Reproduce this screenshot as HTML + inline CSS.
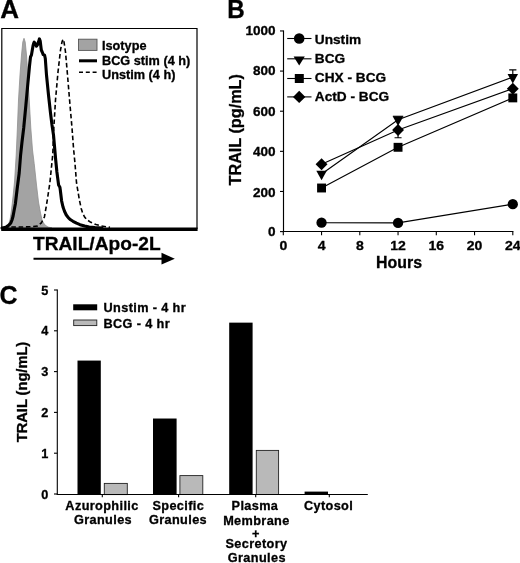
<!DOCTYPE html>
<html>
<head>
<meta charset="utf-8">
<title>TRAIL figure</title>
<style>
  html, body { margin: 0; padding: 0; background: #ffffff; }
  body { width: 520px; height: 563px; overflow: hidden; font-family: "Liberation Sans", sans-serif; }
  svg { display: block; filter: grayscale(1); }
  text { font-family: "Liberation Sans", sans-serif; font-weight: bold; fill: #000; }
</style>
</head>
<body>
<svg width="520" height="563" viewBox="0 0 520 563">
<rect x="0" y="0" width="520" height="563" fill="#ffffff"/>

<g id="panelA">
<text transform="translate(0.3,17.5) scale(1.04,1)" font-size="25" stroke="#000" stroke-width="0.3">A</text>
<path d="M2,228 L6,227 L8.5,224.5 L10.2,219 L11.5,210 L13.1,196 L14.6,181 L16.2,155 L17.4,128 L18.5,100 L20,75 L21.5,55 L22.8,42 L24,38.3 L25.2,42 L26.5,55 L28,78 L29.5,105 L30.8,128 L32.5,150 L34.2,163.5 L36.5,185 L38.5,202 L40.5,213 L42.3,221 L45,225 L48,227 L52,228 Z" fill="#a3a3a3" stroke="#8f8f8f" stroke-width="0.8"/>
<path d="M4,227 L20,227 L30,226.8 L37.5,226 L41.3,223 L44.4,217 L46.5,205 L47.6,198 L49.9,182.7 L52.8,154 L53.8,128 L55.5,100 L58,72 L60.5,50 L62,42 L63,39.2 L64,42 L65.5,52 L67.5,75 L70,105 L72,128 L73.5,148 L75,163.5 L76.5,182.7 L79.4,200 L81.2,208.5 L82.8,213.5 L84.6,217 L87,219.8 L90.8,222.3 L96,224.6 L101.5,226 L110,227.3" fill="none" stroke="#000" stroke-width="1.6" stroke-dasharray="4.6,2.7"/>
<path d="M2,228 L4.5,227.6 L6.9,226.6 L9,225 L10.8,223 L12,220 L13.1,216 L14.2,210 L15.4,203.8 L17.2,188.5 L19.2,173 L20.6,155 L22,142 L23.7,128 L25.9,105 L28.0,82 L29.5,66 L30.5,57 L31.5,54.8 L32.3,50 L33,46 L33.6,43.6 L34.2,42.2 L35.2,43.6 L36.5,46.2 L37.6,44.6 L38.6,41.6 L39.4,38.9 L40.2,41 L40.8,46 L41.3,50 L42.2,52 L43.2,54.6 L44.6,55.2 L45.3,58.5 L46.5,75 L48.5,95 L50.5,113 L52,125 L53.5,135 L54.3,144 L55.7,160 L56.9,172 L58.6,185 L59.9,187.2 L60.3,190 L61.6,200.8 L63,207 L64.6,211.5 L66.3,215 L68.5,217.9 L70.6,219.8 L73,221.3 L76.5,223.2 L80,224.7 L84.6,226 L89.2,227 L95,227.6 L102,228" fill="none" stroke="#000" stroke-width="3.1" stroke-linejoin="round" stroke-linecap="round"/>
<path d="M1.8,229 L1.8,28.5 L197,28.5 L197,229" fill="none" stroke="#000" stroke-width="1.2"/>
<line x1="1.2" y1="229.2" x2="197.6" y2="229.2" stroke="#000" stroke-width="3.5"/>
<rect x="78.5" y="39.2" width="18.5" height="11.2" fill="#a3a3a3" stroke="#555" stroke-width="0.9"/>
<line x1="79" y1="60.8" x2="97" y2="60.8" stroke="#000" stroke-width="3"/>
<line x1="79" y1="72.3" x2="97" y2="72.3" stroke="#000" stroke-width="1.6" stroke-dasharray="4,2.8"/>
<text transform="translate(102,50) scale(1.06,1)" font-size="12.0" stroke="#000" stroke-width="0.3">Isotype</text>
<text transform="translate(102,64.5) scale(1.06,1)" font-size="12.0" stroke="#000" stroke-width="0.3">BCG stim (4 h)</text>
<text transform="translate(102,78.5) scale(1.06,1)" font-size="12.0" stroke="#000" stroke-width="0.3">Unstim (4 h)</text>
<text transform="translate(33,250.3) scale(1.047,1)" font-size="18.3" stroke="#000" stroke-width="0.3">TRAIL/Apo-2L</text>
<line x1="33.5" y1="258.7" x2="164" y2="258.7" stroke="#000" stroke-width="2"/>
<path d="M161.5,252.8 L174.8,258.7 L161.5,264.6 Z" fill="#000"/>
</g>
<g id="panelB">
<text transform="translate(227.3,17.9) scale(0.97,1)" font-size="25" stroke="#000" stroke-width="0.3">B</text>
<line x1="283.5" y1="30.45" x2="283.5" y2="232.0" stroke="#000" stroke-width="1.15"/>
<line x1="283.0" y1="231.5" x2="513.4" y2="231.5" stroke="#000" stroke-width="1.15"/>
<g stroke="#000" stroke-width="1.1">
<line x1="280" y1="231.6" x2="283.5" y2="231.6"/>
<line x1="280" y1="191.47" x2="283.5" y2="191.47"/>
<line x1="280" y1="151.34" x2="283.5" y2="151.34"/>
<line x1="280" y1="111.21" x2="283.5" y2="111.21"/>
<line x1="280" y1="71.08" x2="283.5" y2="71.08"/>
<line x1="280" y1="30.95" x2="283.5" y2="30.95"/>
<line x1="283.3" y1="231.5" x2="283.3" y2="235.3"/>
<line x1="321.55" y1="231.5" x2="321.55" y2="235.3"/>
<line x1="359.8" y1="231.5" x2="359.8" y2="235.3"/>
<line x1="398.05" y1="231.5" x2="398.05" y2="235.3"/>
<line x1="436.3" y1="231.5" x2="436.3" y2="235.3"/>
<line x1="474.55" y1="231.5" x2="474.55" y2="235.3"/>
<line x1="512.8" y1="231.5" x2="512.8" y2="235.3"/>
</g>
<text transform="translate(275.6,236) scale(1.06,1)" font-size="12.8" text-anchor="end" stroke="#000" stroke-width="0.3">0</text>
<text transform="translate(275.6,197.37) scale(1.06,1)" font-size="12.8" text-anchor="end" stroke="#000" stroke-width="0.3">200</text>
<text transform="translate(275.6,155.74) scale(1.06,1)" font-size="12.8" text-anchor="end" stroke="#000" stroke-width="0.3">400</text>
<text transform="translate(275.6,115.61) scale(1.06,1)" font-size="12.8" text-anchor="end" stroke="#000" stroke-width="0.3">600</text>
<text transform="translate(275.6,75.48) scale(1.06,1)" font-size="12.8" text-anchor="end" stroke="#000" stroke-width="0.3">800</text>
<text transform="translate(275.6,35.35) scale(1.06,1)" font-size="12.8" text-anchor="end" stroke="#000" stroke-width="0.3">1000</text>
<text transform="translate(283.3,250.1) scale(1.08,1)" font-size="13.0" text-anchor="middle" stroke="#000" stroke-width="0.3">0</text>
<text transform="translate(321.55,250.1) scale(1.08,1)" font-size="13.0" text-anchor="middle" stroke="#000" stroke-width="0.3">4</text>
<text transform="translate(359.8,250.1) scale(1.08,1)" font-size="13.0" text-anchor="middle" stroke="#000" stroke-width="0.3">8</text>
<text transform="translate(398.05,250.1) scale(1.08,1)" font-size="13.0" text-anchor="middle" stroke="#000" stroke-width="0.3">12</text>
<text transform="translate(436.3,250.1) scale(1.08,1)" font-size="13.0" text-anchor="middle" stroke="#000" stroke-width="0.3">16</text>
<text transform="translate(474.55,250.1) scale(1.08,1)" font-size="13.0" text-anchor="middle" stroke="#000" stroke-width="0.3">20</text>
<text transform="translate(512.8,250.1) scale(1.08,1)" font-size="13.0" text-anchor="middle" stroke="#000" stroke-width="0.3">24</text>
<text transform="translate(399,268) scale(1.02,1)" font-size="15.6" text-anchor="middle" stroke="#000" stroke-width="0.3">Hours</text>
<text transform="translate(240.9,129.8) rotate(-90) scale(1.04,1)" font-size="15.6" text-anchor="middle" stroke="#000" stroke-width="0.3">TRAIL (pg/mL)</text>
<g fill="none" stroke="#000" stroke-width="1.15">
<polyline points="321.55,222.7 398.05,222.9 512.8,204.2"/>
<polyline points="321.55,174.0 398.05,119.7 512.8,77.2"/>
<polyline points="321.55,188.0 398.05,147.3 512.8,97.9"/>
<polyline points="321.55,164.3 398.05,130.0 512.8,88.7"/>
<path d="M512.8,75 L512.8,69.9 M509.2,69.9 L516.4,69.9"/>
<path d="M398.05,133 L398.05,137.7 M394.55,137.7 L401.55,137.7"/>
<path d="M392.85,116.3 L403.25,116.3"/>
</g>
<g fill="#000">
<circle cx="321.55" cy="222.7" r="5.15"/>
<circle cx="398.05" cy="222.9" r="5.15"/>
<circle cx="512.8" cy="204.2" r="5.15"/>
<rect x="317.1" y="183.55" width="8.9" height="8.9"/>
<rect x="393.6" y="142.85" width="8.9" height="8.9"/>
<rect x="508.35" y="93.45" width="8.9" height="8.9"/>
<path d="M316.3,170.87 L326.8,170.87 L321.55,180.27 Z"/>
<path d="M392.8,116.57 L403.3,116.57 L398.05,125.97 Z"/>
<path d="M507.55,74.07 L518.05,74.07 L512.8,83.47 Z"/>
<path d="M321.55,158.35 L327.5,164.3 L321.55,170.25 L315.6,164.3 Z"/>
<path d="M398.05,124.05 L404,130 L398.05,135.95 L392.1,130 Z"/>
<path d="M512.8,82.75 L518.75,88.7 L512.8,94.65 L506.85,88.7 Z"/>
</g>
<g stroke="#000" stroke-width="1.1">
<line x1="287.2" y1="38.5" x2="311.5" y2="38.5"/>
<line x1="287.2" y1="58.8" x2="311.5" y2="58.8"/>
<line x1="287.2" y1="78.5" x2="311.5" y2="78.5"/>
<line x1="287.2" y1="96.9" x2="311.5" y2="96.9"/>
</g>
<g fill="#000">
<circle cx="299.2" cy="38.5" r="5.3"/>
<path d="M293.6,56.4 L304.8,56.4 L299.2,65.4 Z"/>
<rect x="294.8" y="74" width="9" height="9"/>
<path d="M299.2,90.7 L305.4,96.9 L299.2,103.1 L293,96.9 Z"/>
</g>
<text transform="translate(314.8,44.3) scale(1.06,1)" font-size="12.9" stroke="#000" stroke-width="0.3">Unstim</text>
<text transform="translate(314.8,62.9) scale(1.06,1)" font-size="12.9" stroke="#000" stroke-width="0.3">BCG</text>
<text transform="translate(314.8,81.6) scale(1.06,1)" font-size="12.9" stroke="#000" stroke-width="0.3">CHX - BCG</text>
<text transform="translate(314.8,101.0) scale(1.06,1)" font-size="12.9" stroke="#000" stroke-width="0.3">ActD - BCG</text>
</g>
<g id="panelC">
<text transform="translate(-0.6,304.2)" font-size="25" stroke="#000" stroke-width="0.3">C</text>
<g fill="#000">
<rect x="77.5" y="360.58" width="23.3" height="133.92"/>
<rect x="153" y="418.52" width="23.6" height="75.98"/>
<rect x="229.2" y="322.64" width="23.4" height="171.86"/>
<rect x="304.6" y="491.6" width="23.4" height="2.9"/>
</g>
<g fill="#b9b9b9" stroke="#222" stroke-width="0.9">
<rect x="104.3" y="483.4" width="23.0" height="11.2"/>
<rect x="179.9" y="475.6" width="22.9" height="18.9"/>
<rect x="256.3" y="450.4" width="22.3" height="44.1"/>
</g>
<line x1="57.3" y1="289.5" x2="57.3" y2="495.0" stroke="#000" stroke-width="1.1"/>
<line x1="56.8" y1="494.5" x2="367.8" y2="494.5" stroke="#000" stroke-width="1.1"/>
<g stroke="#000" stroke-width="1.1">
<line x1="54" y1="494" x2="57.3" y2="494"/>
<line x1="54" y1="453.2" x2="57.3" y2="453.2"/>
<line x1="54" y1="412.4" x2="57.3" y2="412.4"/>
<line x1="54" y1="371.6" x2="57.3" y2="371.6"/>
<line x1="54" y1="330.8" x2="57.3" y2="330.8"/>
<line x1="54" y1="290" x2="57.3" y2="290"/>
<line x1="102.3" y1="494.5" x2="102.3" y2="497.2"/>
<line x1="178.6" y1="494.5" x2="178.6" y2="497.2"/>
<line x1="255.7" y1="494.5" x2="255.7" y2="497.2"/>
<line x1="329.3" y1="494.5" x2="329.3" y2="497.2"/>
</g>
<text transform="translate(48.2,498.5) scale(1.06,1)" font-size="12" text-anchor="end" stroke="#000" stroke-width="0.3">0</text>
<text transform="translate(48.2,457.7) scale(1.06,1)" font-size="12" text-anchor="end" stroke="#000" stroke-width="0.3">1</text>
<text transform="translate(48.2,416.9) scale(1.06,1)" font-size="12" text-anchor="end" stroke="#000" stroke-width="0.3">2</text>
<text transform="translate(48.2,376.1) scale(1.06,1)" font-size="12" text-anchor="end" stroke="#000" stroke-width="0.3">3</text>
<text transform="translate(48.2,335.3) scale(1.06,1)" font-size="12" text-anchor="end" stroke="#000" stroke-width="0.3">4</text>
<text transform="translate(48.2,294.5) scale(1.06,1)" font-size="12" text-anchor="end" stroke="#000" stroke-width="0.3">5</text>
<text transform="translate(26.6,392) rotate(-90) scale(1.03,1)" font-size="14.2" text-anchor="middle" stroke="#000" stroke-width="0.3">TRAIL (ng/mL)</text>
<rect x="73.2" y="304.3" width="24" height="6" fill="#000"/>
<rect x="73.7" y="320" width="23.1" height="5.6" fill="#b9b9b9" stroke="#222" stroke-width="0.9"/>
<text transform="translate(103.5,312.3) scale(1.06,1)" font-size="12" letter-spacing="0.35" stroke="#000" stroke-width="0.3">Unstim - 4 hr</text>
<text transform="translate(103.5,327.9) scale(1.06,1)" font-size="12" letter-spacing="0.35" stroke="#000" stroke-width="0.3">BCG - 4 hr</text>
<text transform="translate(102.0,509.6) scale(1.06,1)" font-size="12" text-anchor="middle" letter-spacing="0.35" stroke="#000" stroke-width="0.3">Azurophilic</text>
<text transform="translate(103,524.0) scale(1.06,1)" font-size="12" text-anchor="middle" letter-spacing="0.35" stroke="#000" stroke-width="0.3">Granules</text>
<text transform="translate(178.3,509.6) scale(1.06,1)" font-size="12" text-anchor="middle" letter-spacing="0.35" stroke="#000" stroke-width="0.3">Specific</text>
<text transform="translate(178,524.0) scale(1.06,1)" font-size="12" text-anchor="middle" letter-spacing="0.35" stroke="#000" stroke-width="0.3">Granules</text>
<text transform="translate(254.9,510.25) scale(1.06,1)" font-size="12" text-anchor="middle" letter-spacing="0.35" stroke="#000" stroke-width="0.3">Plasma</text>
<text transform="translate(256.4,524.8) scale(1.06,1)" font-size="12" text-anchor="middle" letter-spacing="0.35" stroke="#000" stroke-width="0.3">Membrane</text>
<text transform="translate(255.9,537.9) scale(1.06,1)" font-size="12" text-anchor="middle" letter-spacing="0.35" stroke="#000" stroke-width="0.3">+</text>
<text transform="translate(256.4,548.0) scale(1.06,1)" font-size="12" text-anchor="middle" letter-spacing="0.35" stroke="#000" stroke-width="0.3">Secretory</text>
<text transform="translate(256.8,561.8) scale(1.06,1)" font-size="12" text-anchor="middle" letter-spacing="0.35" stroke="#000" stroke-width="0.3">Granules</text>
<text transform="translate(328.5,510.4) scale(1.06,1)" font-size="12" text-anchor="middle" letter-spacing="0.35" stroke="#000" stroke-width="0.3">Cytosol</text>
</g>
</svg>
</body>
</html>
